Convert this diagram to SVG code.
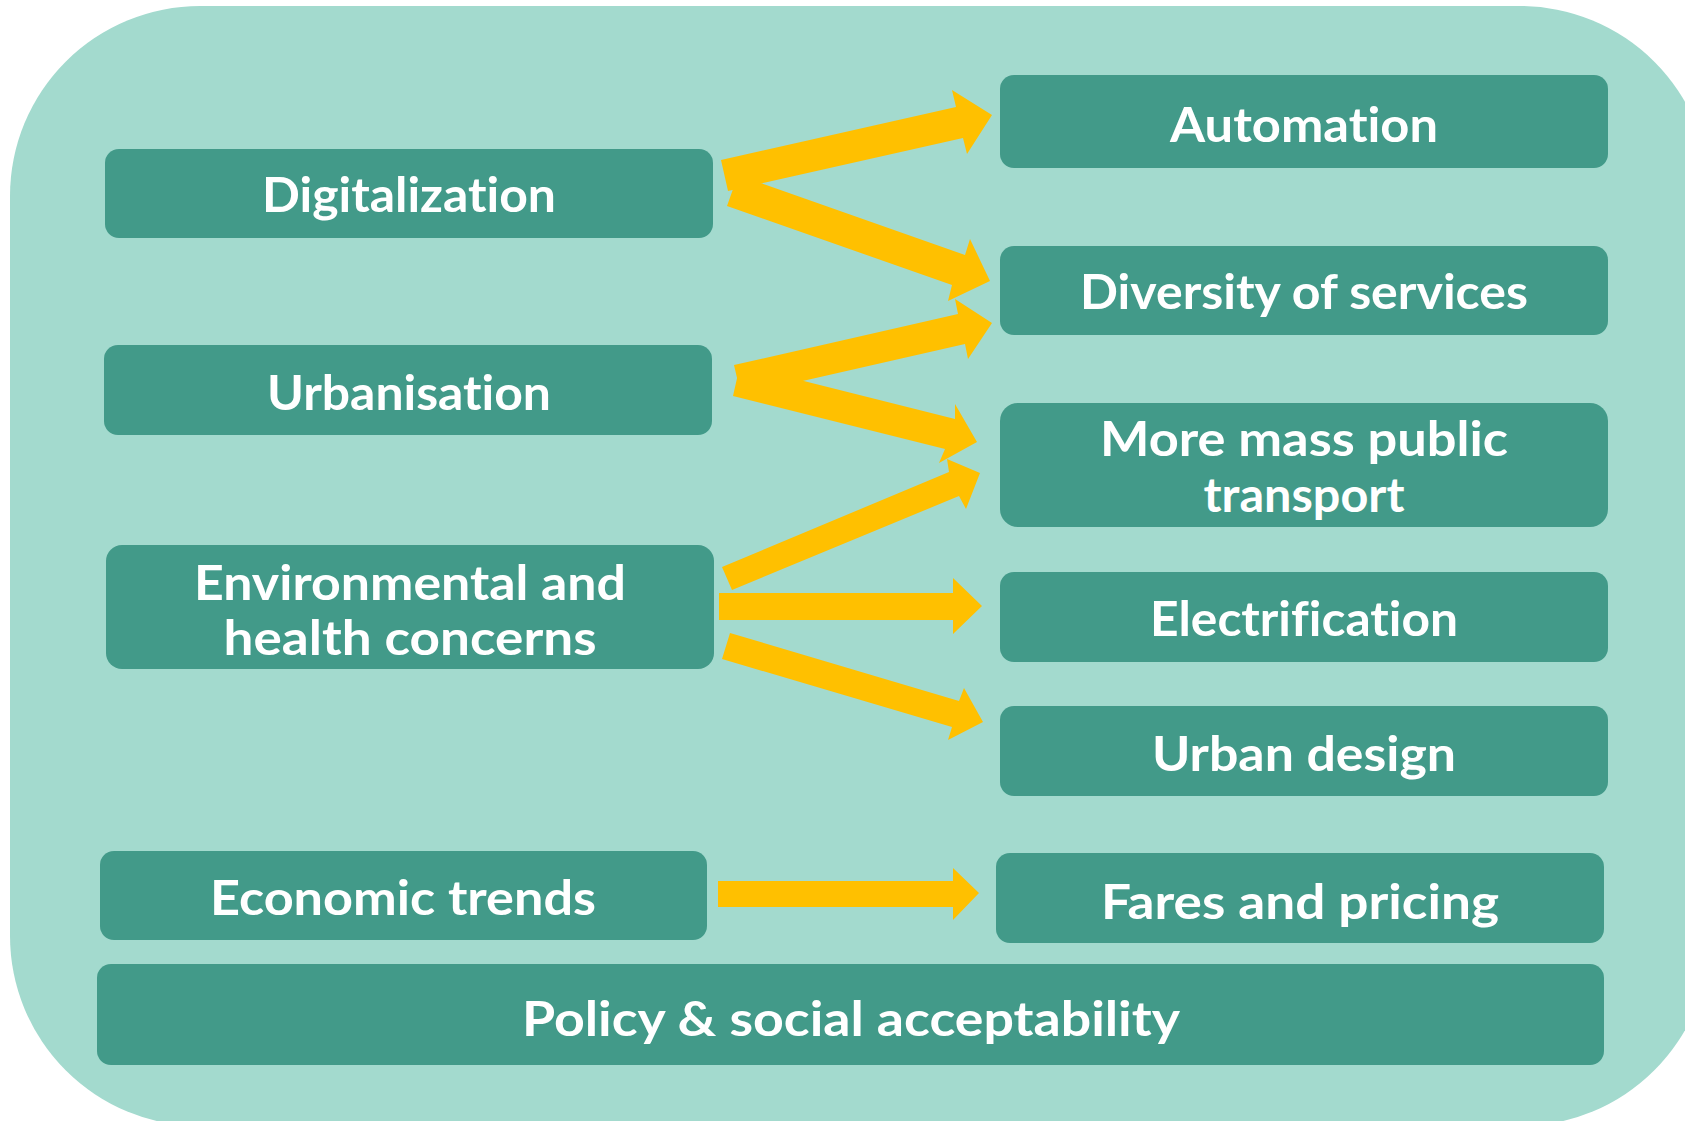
<svg xmlns="http://www.w3.org/2000/svg" width="1685" height="1121" viewBox="0 0 1685 1121">
<style>
.box{fill:#429A89}
.t{font-family:Lato,"Noto Sans","DejaVu Sans",sans-serif;font-weight:700;font-size:47px;fill:#FFFFFF;text-anchor:middle;font-variant-ligatures:none;font-feature-settings:"liga" 0,"clig" 0}
.arr{fill:#FFC000}
</style>
<rect x="0" y="0" width="1685" height="1121" fill="#FFFFFF"/>
<rect id="panel" x="10" y="6" width="1700" height="1120" rx="190" ry="190" fill="#A3DACE"/>
<g id="connectors">
<polygon class="arr" points="721,160 956,107 952,90 992,115 967,154 963,138 728,191"/>
<polygon class="arr" points="738,175 965,255 970,239 990,281 948,301 952,285 727,206"/>
<polygon class="arr" points="734,365 958,314 955,299 992,323 968,359 965,344 741,395"/>
<polygon class="arr" points="740,365 955,419 955,404 977,442 939,463 945,449 733,396"/>
<polygon class="arr" points="722,567 949,472 947,459 980,473 966,509 959,496 732,590"/>
<polygon class="arr" points="719,593 953,593 953,578 982,606 953,634 953,620 719,620"/>
<polygon class="arr" points="730,633 959,701 964,688 983,722 948,740 952,727 722,659"/>
<polygon class="arr" points="718,881 953,881 953,868 979,893 953,920 953,907 718,907"/>
</g>
<g id="digitalization"><rect class="box" x="105" y="149" width="608" height="89" rx="14"/><text class="t" x="409" y="212" textLength="294" lengthAdjust="spacingAndGlyphs">Digitalization</text></g>
<g id="urbanisation"><rect class="box" x="104" y="345" width="608" height="90" rx="14"/><text class="t" x="409" y="410" textLength="284" lengthAdjust="spacingAndGlyphs">Urbanisation</text></g>
<g id="environmental"><rect class="box" x="106" y="545" width="608" height="124" rx="16"/><text class="t" x="410" y="600" textLength="432" lengthAdjust="spacingAndGlyphs">Environmental and</text><text class="t" x="410" y="655" textLength="373" lengthAdjust="spacingAndGlyphs">health concerns</text></g>
<g id="economic"><rect class="box" x="100" y="851" width="607" height="89" rx="14"/><text class="t" x="403" y="915" textLength="386" lengthAdjust="spacingAndGlyphs">Economic trends</text></g>
<g id="automation"><rect class="box" x="1000" y="75" width="608" height="93" rx="14"/><text class="t" x="1304" y="142" textLength="268" lengthAdjust="spacingAndGlyphs">Automation</text></g>
<g id="diversity"><rect class="box" x="1000" y="246" width="608" height="89" rx="14"/><text class="t" x="1304" y="309" textLength="448" lengthAdjust="spacingAndGlyphs">Diversity of services</text></g>
<g id="masstransport"><rect class="box" x="1000" y="403" width="608" height="124" rx="18"/><text class="t" x="1304" y="456" textLength="408" lengthAdjust="spacingAndGlyphs">More mass public</text><text class="t" x="1304" y="512" textLength="201" lengthAdjust="spacingAndGlyphs">transport</text></g>
<g id="electrification"><rect class="box" x="1000" y="572" width="608" height="90" rx="14"/><text class="t" x="1304" y="636" textLength="308" lengthAdjust="spacingAndGlyphs">Electrification</text></g>
<g id="urbandesign"><rect class="box" x="1000" y="706" width="608" height="90" rx="14"/><text class="t" x="1304" y="771" textLength="304" lengthAdjust="spacingAndGlyphs">Urban design</text></g>
<g id="fares"><rect class="box" x="996" y="853" width="608" height="90" rx="14"/><text class="t" x="1300" y="919" textLength="398" lengthAdjust="spacingAndGlyphs">Fares and pricing</text></g>
<g id="policy"><rect class="box" x="97" y="964" width="1507" height="101" rx="14"/><text class="t" x="851" y="1036" textLength="658" lengthAdjust="spacingAndGlyphs">Policy &amp; social acceptability</text></g>
</svg>
